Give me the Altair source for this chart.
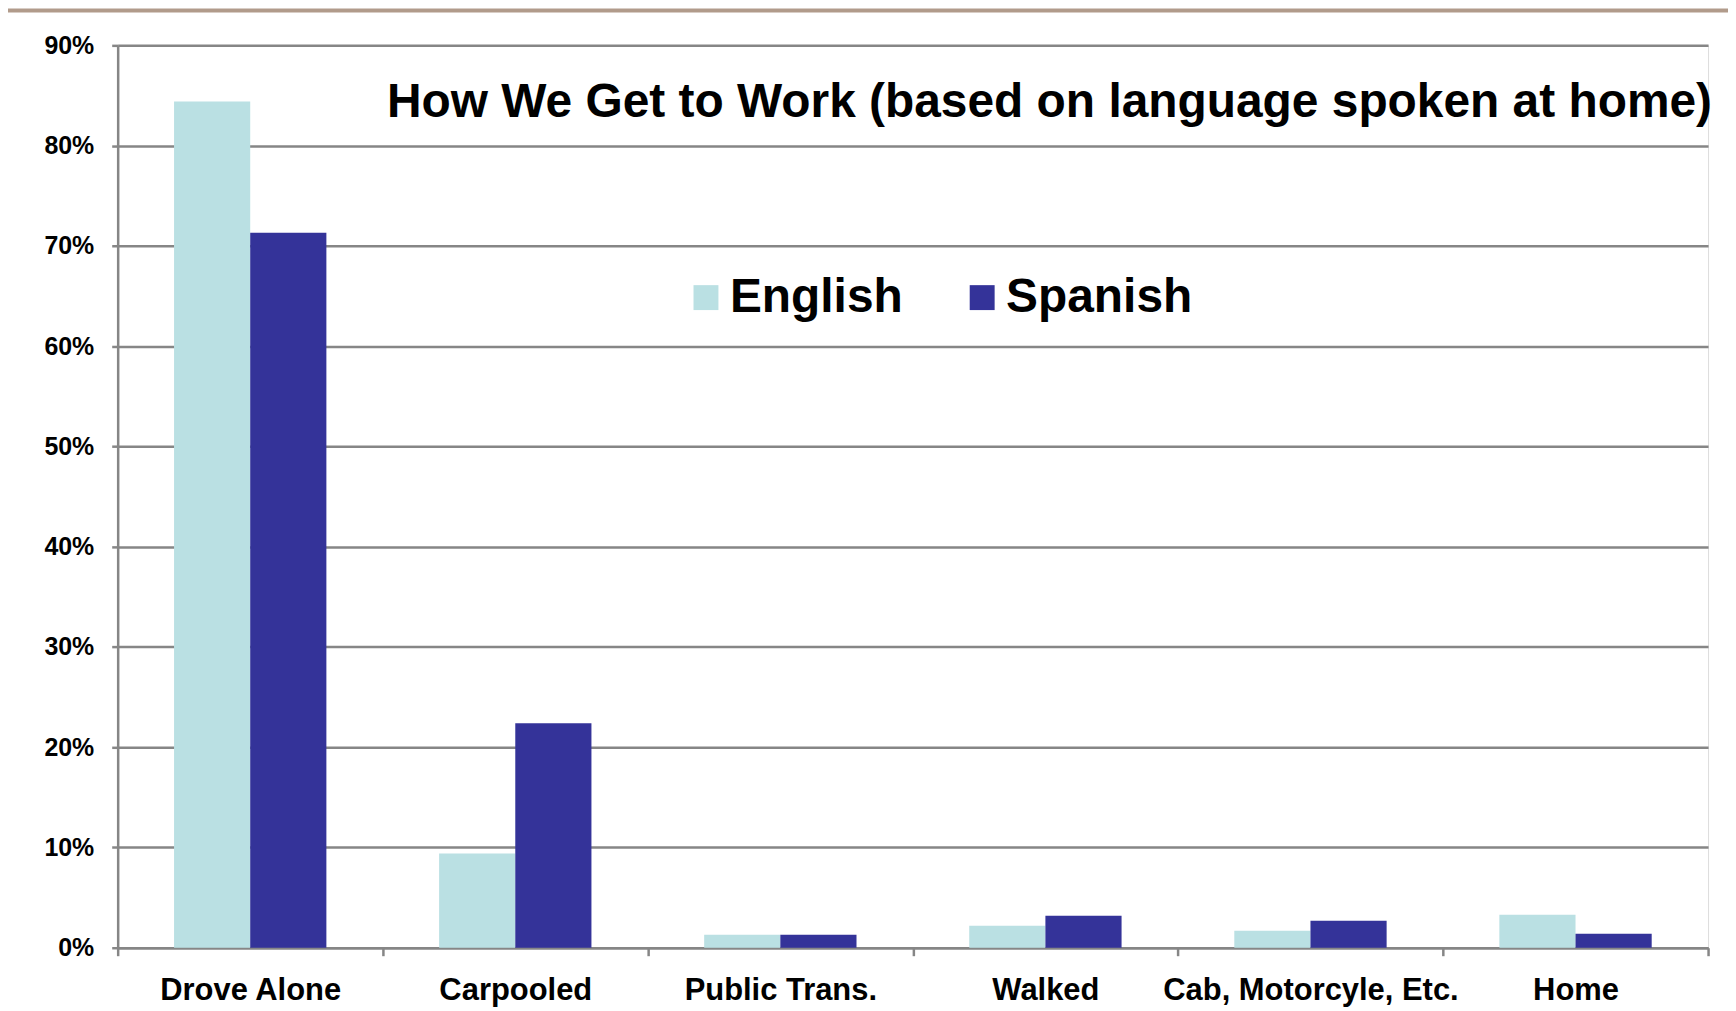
import altair as alt
import pandas as pd

categories = ["Drove Alone", "Carpooled", "Public Trans.", "Walked", "Cab, Motorcyle, Etc.", "Home"]
english = [0.844, 0.094, 0.013, 0.022, 0.017, 0.033]
spanish = [0.713, 0.224, 0.013, 0.032, 0.027, 0.014]
languages = ["English", "Spanish"]
colors = ["#BAE0E3", "#343399"]
title_text = "How We Get to Work (based on language spoken at home)"
y_ticks = [0.0, 0.1, 0.2, 0.3, 0.4, 0.5, 0.6, 0.7, 0.8, 0.9]

rows = []
for c, e, s in zip(categories, english, spanish):
    rows.append({"mode": c, "lang": "English", "value": e})
    rows.append({"mode": c, "lang": "Spanish", "value": s})
df = pd.DataFrame(rows)

W, H = 1595, 905
FONT = "Liberation Sans"
GRAY = "#868686"

bars = alt.Chart(df).mark_bar().encode(
    x=alt.X("mode:N", sort=categories,
            scale=alt.Scale(paddingInner=0, paddingOuter=0),
            axis=alt.Axis(title=None, labelAngle=0, tickBand="extent", grid=False,
                          labelFont=FONT, labelFontSize=31, labelFontWeight="bold",
                          labelColor="black", labelPadding=20, tickSize=8, labelLimit=0,
                          tickColor=GRAY, tickWidth=2.5, domainColor=GRAY, domainWidth=2.5)),
    xOffset=alt.XOffset("lang:N", sort=languages,
                        scale=alt.Scale(paddingInner=0, paddingOuter=0.74)),
    y=alt.Y("value:Q", scale=alt.Scale(domain=[0, 0.9], nice=False),
            axis=alt.Axis(title=None, format=".0%", values=y_ticks,
                          labelFont=FONT, labelFontSize=25, labelFontWeight="bold",
                          labelColor="black", labelPadding=18, tickSize=6,
                          tickColor=GRAY, tickWidth=2.5, domainColor=GRAY, domainWidth=2.5,
                          grid=True, gridColor=GRAY, gridWidth=2.5)),
    color=alt.Color("lang:N", scale=alt.Scale(domain=languages, range=colors),
                    legend=alt.Legend(title=None, orient="none", legendX=566, legendY=229,
                                      direction="horizontal", symbolType="square",
                                      symbolSize=625, symbolStrokeWidth=0, symbolOpacity=1,
                                      labelFont=FONT, labelFontSize=48, labelFontWeight="bold",
                                      labelColor="black", columnPadding=55, labelOffset=0,
                                      labelLimit=0, padding=0)),
)

title = alt.Chart(pd.DataFrame({"t": [title_text]})).mark_text(
    align="right", baseline="middle", fontSize=48, fontWeight="bold", font=FONT, color="black"
).encode(text="t:N", x=alt.value(W + 4), y=alt.value(58))

top_rule = alt.Chart(pd.DataFrame({"a": [0]})).mark_rule(
    color="#B19B8B", strokeWidth=4
).encode(x=alt.value(-110), x2=alt.value(W + 20), y=alt.value(-35))

chart = alt.layer(bars, title, top_rule).properties(
    width=W, height=H,
    padding={"left": 110, "top": 36, "right": 20, "bottom": 62},
    autosize=alt.AutoSizeParams(type="none"),
).configure_view(strokeWidth=0).configure(background="white")

chart.save("out.html", embed_options={"renderer": "svg", "actions": False})
